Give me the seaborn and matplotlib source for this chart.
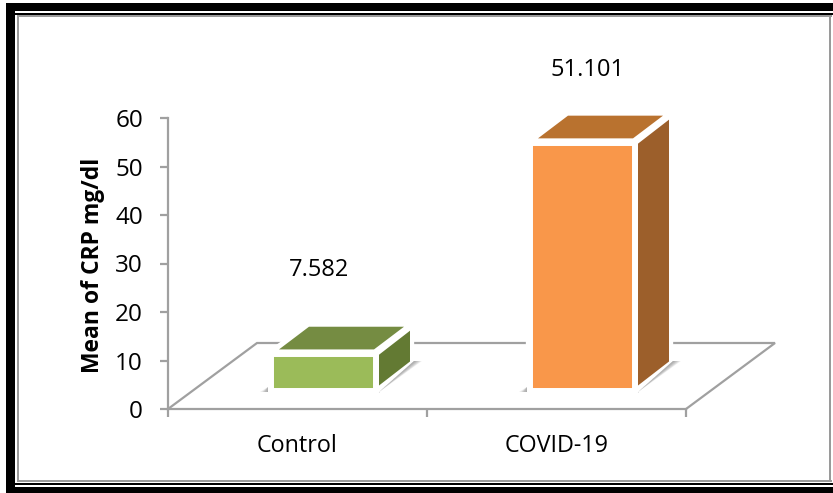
import matplotlib
matplotlib.use("Agg")
import matplotlib.pyplot as plt
import seaborn as sns
from matplotlib.patches import Polygon, Rectangle
from matplotlib.transforms import Affine2D, IdentityTransform

categories = ["Control", "COVID-19"]
means = [7.582, 51.101]
front_colors = ["#9BBB59", "#F9974A"]
top_colors = ["#758C42", "#B9722F"]
side_colors = ["#637A33", "#9C5F2B"]
label_gaps = [84, 73]
label_nudges = [-5, 5]
y_ticks = [0, 10, 20, 30, 40, 50, 60]
y_label = "Mean of CRP mg/dl"

W, H = 833, 493
AXIS_GRAY = "#A0A0A0"
FONT = "Open Sans"
BAR_SHIFT = (26, 18.5)
FLOOR_DEPTH = (89, 66)

sns.set_theme(style="white")
plt.rcParams["font.family"] = [FONT, "DejaVu Sans"]

fig = plt.figure(figsize=(W / 100, H / 100), dpi=100, facecolor="white")
ax = fig.add_axes([168 / W, (H - 409) / H, 518 / W, 291 / H], facecolor="none")

sns.barplot(x=categories, y=means, hue=categories, palette=front_colors,
            width=105 / 259, linewidth=4.3, edgecolor="white", legend=False,
            saturation=1, zorder=5, ax=ax)
ax.set_xlim(-0.5, 1.5)
ax.set_ylim(0, 60)

# Axes
for side in ("top", "right"):
    ax.spines[side].set_visible(False)
for side in ("left", "bottom"):
    ax.spines[side].set_color(AXIS_GRAY)
    ax.spines[side].set_linewidth(1.6)
ax.set_yticks(y_ticks)
ax.tick_params(axis="y", left=True, length=6, width=1.6, color=AXIS_GRAY,
               labelsize=17.5, labelcolor="black", pad=12)
ax.set_xticks([-0.5, 0.5, 1.5], labels=["", "", ""])
ax.set_xticks([0, 1], labels=categories, minor=True)
ax.tick_params(axis="x", which="major", bottom=True, length=6, width=1.6, color=AXIS_GRAY)
ax.tick_params(axis="x", which="minor", bottom=False, length=0, labelsize=16.8,
               labelcolor="black", pad=18)
fig.text(93 / W, (H - 265) / H, y_label, rotation=90, ha="center", va="center",
         fontsize=16.5, fontweight="bold", color="black")

# Floor of the 3D box, behind the bars
to_px = ax.transData.transform
(x0, y0), (x1, _) = to_px([(-0.5, 0), (1.5, 0)])
fx, fy = FLOOR_DEPTH
ax.add_artist(plt.Line2D([x0, x0 + fx, x1 + fx, x1], [y0, y0 + fy, y0 + fy, y0],
                         transform=IdentityTransform(), color=AXIS_GRAY, lw=1.6,
                         zorder=1, clip_on=False, solid_joinstyle="miter"))


def add_poly(points, zorder, **kws):
    ax.add_patch(Polygon(points, closed=True, transform=IdentityTransform(),
                         clip_on=False, zorder=zorder, **kws))


# Shift each front face onto the floor and extrude its top and side
shift = ax.transData + Affine2D().translate(*BAR_SHIFT)
for patch, value, top_c, side_c, gap, nudge in zip(ax.patches[:len(means)], means, top_colors,
                                                   side_colors, label_gaps, label_nudges):
    bx, w = patch.get_x(), patch.get_width()
    patch.set_transform(shift)
    (xl, yb), (xr, yt) = shift.transform([(bx, 0), (bx + w, value)])

    # white halo that interrupts the floor line
    halo = [(xl, yb), (xl, yt), (xl + 38, yt + 27), (xr + 34, yt + 27),
            (xr + 34, yb + 29), (xr + 2, yb)]
    add_poly(halo, 3, facecolor="white", edgecolor="white", lw=6, joinstyle="miter")

    # soft contact shadow, tapering towards the near corner and fading outwards
    for k in range(1, 7):
        add_poly([(xr + 3, yb - 1.5), (xr + 38, yb + 29.5), (xr + 38 + 1.3 * k, yb + 29.5)],
                 3.5, facecolor="#707070", alpha=0.13, edgecolor="none")
        add_poly([(xl - 3, yb + 4), (xl - 3, yb - 1.5), (xl - 3 - 1.3 * k, yb - 1.5)],
                 3.5, facecolor="#707070", alpha=0.13, edgecolor="none")
    add_poly([(xl - 3, yb - 1), (xr + 4, yb - 1), (xr + 4, yb - 2.5), (xl - 3, yb - 2.5)],
             3.5, facecolor="#808080", alpha=0.2, edgecolor="none")

    add_poly([(xl + 8, yt + 4.3), (xl + 38, yt + 27), (xr + 28, yt + 27), (xr - 2, yt + 4.3)],
             4, facecolor=top_c, edgecolor="none")
    add_poly([(xr + 3, yt - 1), (xr + 34, yt + 23), (xr + 34, yb + 29), (xr + 3, yb + 5)],
             4, facecolor=side_c, edgecolor="none")

    ax.annotate(f"{value:.3f}", xy=((xl + xr) / 2 + nudge, yt),
                xycoords=IdentityTransform(), xytext=(0, gap * 0.72), textcoords="offset points",
                ha="center", va="center", fontsize=17, color="black", annotation_clip=False)


# Page frame, given in image pixels from the top-left corner
def frame(x, y, w, h, color):
    fig.add_artist(Rectangle((x, H - y - h), w, h, transform=IdentityTransform(),
                             facecolor=color, edgecolor="none"))


frame(6, 3, W - 6, 8, "black")
frame(6, 3, 9, H - 3, "black")
frame(6, 486.5, W - 6, 6.5, "black")
frame(15, 13, W - 15, 1.7, "black")
frame(15, 483, W - 15, 1.7, "black")
frame(16.5, 15, 2.5, 467, "#9A9A9A")
frame(16.5, 15, 815, 1.5, "#9A9A9A")
frame(16.5, 480, 815, 2, "#9A9A9A")
frame(829, 15, 2.3, 467, "#9A9A9A")

fig.savefig("out.png", dpi=100)
